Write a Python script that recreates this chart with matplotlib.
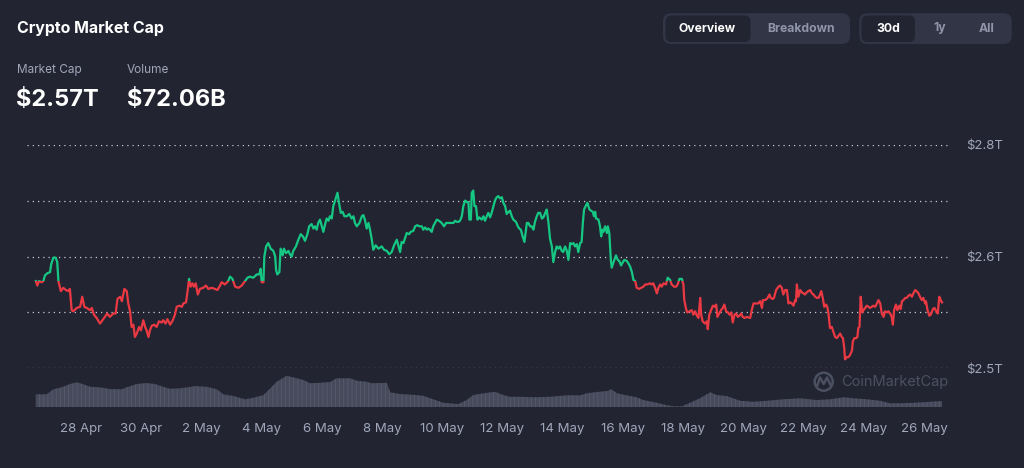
import matplotlib
matplotlib.use("Agg")
import matplotlib.pyplot as plt
from matplotlib.patches import FancyBboxPatch, Rectangle, Circle

# market cap in billions USD, sampled off the chart (day 0 = 26 Apr 00:00)
days = [
    0.50, 0.55, 0.60, 0.69, 0.75, 0.80, 0.88, 0.97, 1.01, 1.08, 1.16, 1.21, 1.25, 1.33, 1.41, 1.50,
    1.58, 1.63, 1.69, 1.74, 1.86, 1.97, 2.04, 2.11, 2.19, 2.30, 2.36, 2.43, 2.52, 2.63, 2.74, 2.87,
    2.96, 3.07, 3.15, 3.21, 3.30, 3.36, 3.44, 3.52, 3.57, 3.63, 3.68, 3.74, 3.79, 3.85, 3.93, 3.99,
    4.07, 4.13, 4.18, 4.24, 4.29, 4.35, 4.43, 4.51, 4.59, 4.68, 4.73, 4.81, 4.87, 4.96, 5.05, 5.12,
    5.18, 5.27, 5.35, 5.40, 5.49, 5.53, 5.59, 5.64, 5.70, 5.75, 5.81, 5.88, 5.95, 6.06, 6.15, 6.23,
    6.34, 6.45, 6.53, 6.62, 6.67, 6.78, 6.89, 6.95, 7.03, 7.12, 7.23, 7.34, 7.45, 7.53, 7.61, 7.72,
    7.84, 7.92, 7.97, 8.00, 8.06, 8.09, 8.15, 8.22, 8.30, 8.39, 8.45, 8.48, 8.52, 8.59, 8.63, 8.70,
    8.74, 8.81, 8.89, 8.94, 9.00, 9.05, 9.14, 9.22, 9.30, 9.37, 9.44, 9.52, 9.58, 9.66, 9.72, 9.77,
    9.83, 9.88, 9.94, 10.00, 10.05, 10.11, 10.16, 10.22, 10.27, 10.33, 10.38, 10.44, 10.52, 10.57,
    10.63, 10.69, 10.75, 10.83, 10.91, 10.99, 11.05, 11.10, 11.16, 11.25, 11.33, 11.38, 11.43, 11.49,
    11.55, 11.60, 11.66, 11.71, 11.79, 11.88, 11.99, 12.07, 12.16, 12.24, 12.32, 12.40, 12.49, 12.54,
    12.60, 12.65, 12.71, 12.76, 12.82, 12.90, 12.95, 13.04, 13.10, 13.17, 13.24, 13.32, 13.37, 13.43,
    13.49, 13.54, 13.59, 13.65, 13.70, 13.76, 13.82, 13.89, 13.98, 14.06, 14.13, 14.20, 14.28, 14.37,
    14.43, 14.48, 14.54, 14.59, 14.65, 14.70, 14.76, 14.81, 14.87, 14.90, 14.95, 14.98, 15.03, 15.07,
    15.12, 15.17, 15.23, 15.31, 15.37, 15.42, 15.48, 15.53, 15.59, 15.64, 15.70, 15.75, 15.81, 15.86,
    15.92, 15.98, 16.03, 16.09, 16.14, 16.20, 16.25, 16.31, 16.36, 16.45, 16.51, 16.56, 16.61, 16.67,
    16.73, 16.81, 16.86, 16.92, 16.97, 17.03, 17.08, 17.14, 17.19, 17.25, 17.31, 17.36, 17.42, 17.47,
    17.53, 17.58, 17.64, 17.69, 17.75, 17.80, 17.86, 17.91, 17.97, 18.02, 18.08, 18.14, 18.19, 18.25,
    18.30, 18.36, 18.41, 18.47, 18.52, 18.58, 18.63, 18.67, 18.71, 18.78, 18.82, 18.89, 18.94, 19.00,
    19.04, 19.08, 19.11, 19.19, 19.24, 19.28, 19.32, 19.35, 19.41, 19.47, 19.50, 19.55, 19.60, 19.63,
    19.69, 19.77, 19.83, 19.88, 19.94, 20.00, 20.05, 20.13, 20.18, 20.24, 20.30, 20.35, 20.41, 20.46,
    20.54, 20.61, 20.68, 20.74, 20.81, 20.90, 20.96, 21.01, 21.07, 21.13, 21.18, 21.24, 21.29, 21.35,
    21.43, 21.49, 21.57, 21.62, 21.70, 21.77, 21.82, 21.88, 21.96, 22.01, 22.04, 22.10, 22.14, 22.21,
    22.29, 22.34, 22.40, 22.46, 22.51, 22.57, 22.60, 22.65, 22.73, 22.79, 22.82, 22.87, 22.93, 22.99,
    23.04, 23.10, 23.14, 23.20, 23.26, 23.32, 23.37, 23.43, 23.49, 23.54, 23.60, 23.65, 23.71, 23.76,
    23.82, 23.87, 23.93, 23.98, 24.04, 24.12, 24.23, 24.28, 24.34, 24.43, 24.50, 24.56, 24.62, 24.65,
    24.72, 24.78, 24.83, 24.87, 24.91, 24.98, 25.02, 25.09, 25.17, 25.22, 25.28, 25.33, 25.39, 25.45,
    25.50, 25.56, 25.61, 25.67, 25.72, 25.75, 25.78, 25.83, 25.89, 25.94, 26.00, 26.05, 26.11, 26.16,
    26.22, 26.28, 26.33, 26.39, 26.44, 26.50, 26.55, 26.59, 26.64, 26.69, 26.75, 26.79, 26.83, 26.88,
    26.94, 26.99, 27.05, 27.11, 27.16, 27.22, 27.27, 27.31, 27.35, 27.38, 27.44, 27.49, 27.55, 27.61,
    27.64, 27.69, 27.75, 27.79, 27.82, 27.86, 27.90, 27.95, 27.99, 28.05, 28.10, 28.16, 28.21, 28.27,
    28.32, 28.38, 28.44, 28.49, 28.55, 28.60, 28.66, 28.71, 28.77, 28.82, 28.88, 28.93, 28.97, 29.01,
    29.07, 29.12, 29.18, 29.23, 29.27, 29.32, 29.38, 29.43, 29.49, 29.54, 29.60, 29.65, 29.71, 29.76,
    29.82, 29.87, 29.93, 29.98, 30.04, 30.07, 30.12, 30.18, 30.23, 30.30, 30.35, 30.41, 30.46, 30.51,
    30.56, 30.60,
]
cap_b = [
    2578, 2574, 2578, 2577, 2578, 2583, 2585, 2586, 2593, 2599, 2599, 2595, 2578, 2569, 2572, 2570,
    2569, 2571, 2552, 2551, 2554, 2555, 2564, 2555, 2554, 2552, 2554, 2548, 2545, 2540, 2544, 2549,
    2546, 2549, 2549, 2562, 2564, 2560, 2571, 2569, 2558, 2551, 2537, 2539, 2528, 2531, 2537, 2534,
    2543, 2537, 2534, 2528, 2534, 2538, 2539, 2537, 2542, 2541, 2543, 2540, 2544, 2539, 2543, 2548,
    2555, 2556, 2555, 2558, 2559, 2567, 2580, 2573, 2576, 2573, 2576, 2566, 2571, 2572, 2574, 2571,
    2572, 2571, 2570, 2574, 2577, 2575, 2578, 2582, 2580, 2573, 2572, 2574, 2578, 2581, 2582, 2581,
    2584, 2584, 2589, 2577, 2577, 2600, 2609, 2612, 2607, 2605, 2600, 2588, 2584, 2586, 2607, 2601,
    2607, 2603, 2605, 2602, 2600, 2605, 2609, 2615, 2620, 2618, 2614, 2620, 2627, 2629, 2625, 2627,
    2624, 2630, 2633, 2627, 2622, 2629, 2634, 2632, 2636, 2634, 2645, 2650, 2657, 2648,
    2639, 2640, 2636, 2636, 2638, 2634, 2636, 2630, 2627, 2630, 2636, 2637, 2633, 2625,
    2630, 2624, 2615, 2606, 2610, 2607, 2609, 2606, 2605, 2602, 2604, 2610, 2615, 2610,
    2604, 2613, 2612, 2616, 2621, 2620, 2622, 2623, 2627, 2628, 2627, 2627, 2624, 2626,
    2624, 2625, 2624, 2622, 2627, 2630, 2633, 2632, 2630, 2627, 2630, 2630, 2630, 2630,
    2632, 2631, 2631, 2632, 2636, 2645, 2650, 2649, 2648, 2633, 2633, 2657, 2659, 2645,
    2645, 2633, 2635, 2633, 2636, 2632, 2636, 2639, 2635, 2639, 2645, 2650, 2653, 2654,
    2652, 2653, 2648, 2645, 2638, 2640, 2641, 2636, 2633, 2631, 2627, 2625, 2624, 2618,
    2613, 2630, 2630, 2627, 2627, 2624, 2631, 2636, 2639, 2639, 2634, 2635, 2639, 2642,
    2630, 2616, 2609, 2595, 2604, 2609, 2607, 2609, 2605, 2604, 2609, 2605, 2597, 2612,
    2611, 2612, 2609, 2611, 2604, 2612, 2613, 2630, 2642, 2646, 2648, 2642, 2641, 2640,
    2636, 2640, 2634, 2633, 2627, 2618, 2624, 2622, 2627, 2621, 2627, 2621, 2597, 2590,
    2595, 2601, 2597, 2596, 2592, 2595, 2597, 2596, 2594, 2591, 2586, 2579, 2578, 2572,
    2571, 2572, 2573, 2575, 2575, 2576, 2575, 2576, 2572, 2567, 2572, 2575, 2573, 2576,
    2575, 2581, 2579, 2575, 2573, 2573, 2575, 2580, 2580, 2575, 2561, 2553, 2550, 2551,
    2552, 2548, 2551, 2547, 2545, 2563, 2548, 2542, 2540, 2542, 2535, 2548, 2552, 2556,
    2555, 2557, 2546, 2549, 2552, 2554, 2557, 2551, 2550, 2548, 2550, 2541, 2548, 2549,
    2546, 2547, 2549, 2546, 2545, 2546, 2545, 2552, 2558, 2558, 2558, 2560, 2554, 2561,
    2561, 2562, 2564, 2566, 2563, 2562, 2563, 2570, 2573, 2574, 2572, 2566, 2570, 2570,
    2558, 2559, 2558, 2556, 2561, 2560, 2575, 2564, 2570, 2568, 2567, 2566, 2568, 2569,
    2570, 2567, 2566, 2564, 2563, 2563, 2566, 2569, 2563, 2555, 2557, 2555, 2549, 2536,
    2537, 2533, 2528, 2527, 2529, 2531, 2528, 2527, 2519, 2508, 2510, 2510, 2512, 2516,
    2524, 2527, 2527, 2528, 2536, 2537, 2564, 2550, 2552, 2554, 2556, 2555, 2554, 2555,
    2556, 2555, 2558, 2561, 2558, 2549, 2546, 2551, 2550, 2551, 2549, 2546, 2539, 2552,
    2557, 2552, 2556, 2553, 2560, 2561, 2563, 2563, 2565, 2566, 2564, 2567, 2570, 2569,
    2567, 2564, 2561, 2563, 2558, 2560, 2552, 2547, 2548, 2553, 2554, 2551, 2549, 2564,
    2561, 2559,
]

# volume in billions USD
vol_days = [
    0.50, 0.86, 1.08, 1.36, 1.63, 1.86, 2.08, 2.30, 2.63, 2.96, 3.35, 3.52, 3.85, 4.18, 4.46, 4.73,
    4.96, 5.29, 5.56, 5.79, 6.18, 6.51, 6.73, 7.06, 7.45, 7.72, 8.06, 8.17, 8.50, 8.83, 9.17, 9.39,
    9.61, 9.94, 10.27, 10.49, 10.94, 11.16, 11.49, 11.66, 12.16, 12.27, 12.60, 13.04, 13.37, 13.70,
    14.04, 14.53, 14.81, 15.03, 15.37, 15.75, 16.03, 16.25, 16.58, 17.03, 17.58, 18.14, 18.58, 18.80,
    19.13, 19.47, 19.63, 19.80, 20.13, 20.46, 20.68, 21.13, 21.46, 21.68, 21.96, 22.23, 22.56, 22.90,
    23.12, 23.45, 23.89, 24.34, 24.78, 25.33, 25.89, 26.44, 26.88, 27.33, 27.66, 28.10, 28.55, 28.88,
    29.21, 29.65, 30.10, 30.60,
]
vol_b = [
    52, 52, 72, 80, 93, 100, 92, 82, 80, 73, 72, 80, 93, 97, 93, 82,
    74, 76, 80, 85, 82, 72, 52, 45, 32, 38, 49, 62, 102, 126, 116, 109,
    96, 98, 101, 116, 116, 106, 102, 96, 98, 60, 53, 50, 46, 32,
    18, 13, 29, 49, 56, 62, 49, 42, 42, 40, 42, 48, 48, 56,
    61, 65, 72, 56, 48, 40, 29, 18, 8, 4, 4, 18, 36, 60,
    49, 45, 26, 22, 26, 32, 36, 29, 32, 40, 36, 32, 26, 16,
    16, 18, 21, 25,
]

tick_days = list(range(2, 31, 2))
tick_labels = ["28 Apr", "30 Apr", "2 May", "4 May", "6 May", "8 May", "10 May", "12 May",
               "14 May", "16 May", "18 May", "20 May", "22 May", "24 May", "26 May"]
grid_caps = [2500, 2550, 2600, 2650, 2700]
grid_labels = ["$2.5T", "", "$2.6T", "", "$2.8T"]

BG = "#222531"
GREEN = "#16c784"
RED = "#ea3943"
MUTED = "#a1a7bb"
W, H = 1024, 468

plt.rcParams["font.family"] = ["Inter", "DejaVu Sans"]

fig = plt.figure(figsize=(W / 100, H / 100), dpi=100, facecolor=BG)

# main price panel
left, right = 26.7, 950.7
top, bottom = 144.7, 368.3
ax = fig.add_axes([left / W, 1 - bottom / H, (right - left) / W, (bottom - top) / H])
ax.set_facecolor("none")
ax.set_xlim(0.196, 30.89)
ax.set_ylim(2500, 2700)
for s in ax.spines.values():
    s.set_visible(False)
ax.set_xticks([])
ax.yaxis.tick_right()
ax.set_yticks(grid_caps)
ax.set_yticklabels(grid_labels)
ax.tick_params(axis="y", length=0, pad=11, labelsize=9.5, labelcolor=MUTED)
ax.yaxis.grid(True, color="#c9ccd6", linestyle=(0, (1, 3.2)), linewidth=0.9)
ax.set_axisbelow(True)

base = cap_b[0]
for color, y0 in ((GREEN, base), (RED, base - 1000)):
    ln, = ax.plot(days, cap_b, color=color, lw=1.6, solid_joinstyle="round", zorder=3)
    ln.set_clip_path(Rectangle((-10, y0), 60, 1000, transform=ax.transData))

# volume strip under the price panel
vbot = 407.3
axv = fig.add_axes([left / W, 1 - vbot / H, (right - left) / W, (vbot - bottom) / H])
axv.set_facecolor("none")
axv.set_xlim(0.196, 30.89)
axv.set_ylim(0, 156)
for s in axv.spines.values():
    s.set_visible(False)
axv.set_yticks([])
plt.rcParams["hatch.linewidth"] = 0.6
axv.fill_between(vol_days, vol_b, 0, facecolor="#464a5b", edgecolor="#565b6d",
                 hatch="||||", linewidth=0)
axv.set_xticks(tick_days)
axv.set_xticklabels(tick_labels)
axv.tick_params(axis="x", length=0, pad=11, labelsize=9.5, labelcolor=MUTED)

# header, buttons and watermark drawn in pixel space
deco = fig.add_axes([0, 0, 1, 1], zorder=-1)
deco.set_xlim(0, W)
deco.set_ylim(H, 0)
deco.axis("off")

deco.text(17, 29, "Crypto Market Cap", color="white", fontsize=11.5, fontweight="bold", va="center")
deco.text(17, 70, "Market Cap", color=MUTED, fontsize=8.5, va="center")
deco.text(127, 70, "Volume", color=MUTED, fontsize=8.5, va="center")
deco.text(16, 100, "$2.57T", color="white", fontsize=17, fontweight="bold", va="center")
deco.text(127, 100, "$72.06B", color="white", fontsize=17, fontweight="bold", va="center")


def pill(x, y, w, h, color, r):
    deco.add_patch(FancyBboxPatch((x, y), w, h, boxstyle=f"round,pad=0,rounding_size={r}",
                                  facecolor=color, edgecolor="none"))


pill(663, 13.3, 187, 30.7, "#323546", 8)
pill(665.5, 15.5, 85, 26.5, BG, 6)
pill(859.3, 13.3, 152.4, 30.7, "#323546", 8)
pill(861.5, 15.5, 53.5, 26.5, BG, 6)
deco.text(707.5, 28.5, "Overview", color="white", fontsize=8.8, fontweight="bold", ha="center", va="center")
deco.text(800.8, 28.5, "Breakdown", color="#8f95a8", fontsize=8.8, fontweight="bold", ha="center", va="center")
deco.text(888, 28.5, "30d", color="white", fontsize=8.8, fontweight="bold", ha="center", va="center")
deco.text(940, 28.5, "1y", color="#8f95a8", fontsize=8.8, fontweight="bold", ha="center", va="center")
deco.text(987, 28.5, "All", color="#8f95a8", fontsize=8.8, fontweight="bold", ha="center", va="center")

WM = "#4b5061"
deco.add_patch(Circle((823.7, 381.7), 9, fill=False, edgecolor=WM, lw=1.8))
deco.plot([817.5, 820, 823.7, 827, 830.5], [385, 377.5, 384, 377.5, 385], color=WM, lw=1.8,
          solid_joinstyle="round")
deco.text(841.5, 381.7, "CoinMarketCap", color=WM, fontsize=10.5, va="center")

fig.savefig("out.png", dpi=100, facecolor=BG)
